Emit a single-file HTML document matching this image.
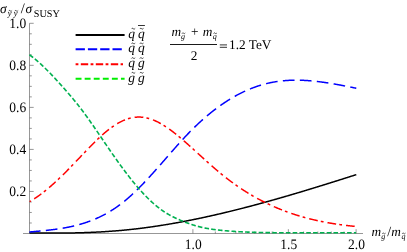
<!DOCTYPE html>
<html><head><meta charset="utf-8"><style>
html,body{margin:0;padding:0;background:#fff;}
svg{display:block;font-family:"Liberation Serif",serif;will-change:transform;-webkit-font-smoothing:antialiased;text-rendering:geometricPrecision;}
text{fill:#000;}
</style></head><body>
<svg width="407" height="252" viewBox="0 0 407 252">
<rect width="407" height="252" fill="#fff"/>
<g stroke="#666" stroke-width="0.68" fill="none">
<line x1="29.5" y1="23.3" x2="29.5" y2="233.5"/>
<line x1="23" y1="233.5" x2="363" y2="233.5"/>
<line x1="29.50" y1="222.99" x2="31.80" y2="222.99"/><line x1="29.50" y1="212.48" x2="31.80" y2="212.48"/><line x1="29.50" y1="201.97" x2="31.80" y2="201.97"/><line x1="29.50" y1="191.46" x2="33.70" y2="191.46"/><line x1="29.50" y1="180.95" x2="31.80" y2="180.95"/><line x1="29.50" y1="170.44" x2="31.80" y2="170.44"/><line x1="29.50" y1="159.93" x2="31.80" y2="159.93"/><line x1="29.50" y1="149.42" x2="33.70" y2="149.42"/><line x1="29.50" y1="138.91" x2="31.80" y2="138.91"/><line x1="29.50" y1="128.40" x2="31.80" y2="128.40"/><line x1="29.50" y1="117.89" x2="31.80" y2="117.89"/><line x1="29.50" y1="107.38" x2="33.70" y2="107.38"/><line x1="29.50" y1="96.87" x2="31.80" y2="96.87"/><line x1="29.50" y1="86.36" x2="31.80" y2="86.36"/><line x1="29.50" y1="75.85" x2="31.80" y2="75.85"/><line x1="29.50" y1="65.34" x2="33.70" y2="65.34"/><line x1="29.50" y1="54.83" x2="31.80" y2="54.83"/><line x1="29.50" y1="44.32" x2="31.80" y2="44.32"/><line x1="29.50" y1="33.81" x2="31.80" y2="33.81"/><line x1="29.50" y1="23.30" x2="33.70" y2="23.30"/><line x1="192.90" y1="233.50" x2="192.90" y2="229.20"/><line x1="215.34" y1="233.50" x2="215.34" y2="231.50"/><line x1="235.83" y1="233.50" x2="235.83" y2="231.50"/><line x1="254.67" y1="233.50" x2="254.67" y2="231.50"/><line x1="272.12" y1="233.50" x2="272.12" y2="231.50"/><line x1="288.37" y1="233.50" x2="288.37" y2="229.20"/><line x1="303.56" y1="233.50" x2="303.56" y2="231.50"/><line x1="317.84" y1="233.50" x2="317.84" y2="231.50"/><line x1="331.29" y1="233.50" x2="331.29" y2="231.50"/><line x1="344.02" y1="233.50" x2="344.02" y2="231.50"/><line x1="356.10" y1="233.50" x2="356.10" y2="229.20"/>
</g>
<g font-size="13.5px"><text transform="translate(26.2,196.21) scale(1,1.07)" text-anchor="end">0.2</text><text transform="translate(26.2,154.17) scale(1,1.07)" text-anchor="end">0.4</text><text transform="translate(26.2,112.13) scale(1,1.07)" text-anchor="end">0.6</text><text transform="translate(26.2,70.09) scale(1,1.07)" text-anchor="end">0.8</text><text transform="translate(26.2,28.05) scale(1,1.07)" text-anchor="end">1.0</text><text transform="translate(193.30,248.8) scale(1,1.07)" text-anchor="middle">1.0</text><text transform="translate(288.77,248.8) scale(1,1.07)" text-anchor="middle">1.5</text><text transform="translate(356.50,248.8) scale(1,1.07)" text-anchor="middle">2.0</text></g>
<g fill="none" stroke-width="1.5">
<path d="M29.50 232.87 L30.00 232.88 L30.50 232.89 L31.00 232.90 L31.50 232.90 L32.00 232.91 L32.50 232.92 L33.00 232.93 L33.50 232.94 L34.00 232.94 L34.50 232.95 L35.00 232.96 L35.50 232.96 L36.00 232.97 L36.50 232.98 L37.00 232.98 L37.50 232.99 L38.00 233.00 L38.50 233.00 L39.00 233.00 L39.50 233.00 L40.00 233.00 L40.50 233.00 L41.00 233.00 L41.50 233.00 L42.00 233.00 L42.50 233.00 L43.00 233.00 L43.50 233.00 L44.00 233.00 L44.50 233.00 L45.00 233.00 L45.50 233.00 L46.00 233.00 L46.50 233.00 L47.00 233.00 L47.50 233.00 L48.00 233.00 L48.50 233.00 L49.00 233.00 L49.50 233.00 L50.00 233.00 L50.50 233.00 L51.00 233.00 L51.50 233.00 L52.00 233.00 L52.50 233.00 L53.00 233.00 L53.50 233.00 L54.00 233.00 L54.50 233.00 L55.00 233.00 L55.50 233.00 L56.00 233.00 L56.50 233.00 L57.00 233.00 L57.50 233.00 L58.00 233.00 L58.50 233.00 L59.00 233.00 L59.50 233.00 L60.00 233.00 L60.50 233.00 L61.00 233.00 L61.50 233.00 L62.00 233.00 L62.50 233.00 L63.00 233.00 L63.50 233.00 L64.00 233.00 L64.50 233.00 L65.00 233.00 L65.50 233.00 L66.00 233.00 L66.50 233.00 L67.00 233.00 L67.50 233.00 L68.00 233.00 L68.50 233.00 L69.00 232.99 L69.50 232.98 L70.00 232.97 L70.50 232.97 L71.00 232.96 L71.50 232.95 L72.00 232.94 L72.50 232.93 L73.00 232.92 L73.50 232.91 L74.00 232.90 L74.50 232.89 L75.00 232.88 L75.50 232.87 L76.00 232.86 L76.50 232.84 L77.00 232.83 L77.50 232.82 L78.00 232.81 L78.50 232.79 L79.00 232.78 L79.50 232.77 L80.00 232.75 L80.50 232.74 L81.00 232.73 L81.50 232.71 L82.00 232.70 L82.50 232.68 L83.00 232.67 L83.50 232.65 L84.00 232.63 L84.50 232.62 L85.00 232.60 L85.50 232.58 L86.00 232.56 L86.50 232.55 L87.00 232.53 L87.50 232.51 L88.00 232.49 L88.50 232.47 L89.00 232.45 L89.50 232.43 L90.00 232.41 L90.50 232.39 L91.00 232.37 L91.50 232.35 L92.00 232.33 L92.50 232.31 L93.00 232.28 L93.50 232.26 L94.00 232.24 L94.50 232.21 L95.00 232.19 L95.50 232.17 L96.00 232.14 L96.50 232.12 L97.00 232.09 L97.50 232.07 L98.00 232.04 L98.50 232.01 L99.00 231.99 L99.50 231.96 L100.00 231.93 L100.50 231.91 L101.00 231.88 L101.50 231.85 L102.00 231.82 L102.50 231.79 L103.00 231.76 L103.50 231.73 L104.00 231.70 L104.50 231.67 L105.00 231.64 L105.50 231.61 L106.00 231.57 L106.50 231.54 L107.00 231.51 L107.50 231.48 L108.00 231.44 L108.50 231.41 L109.00 231.37 L109.50 231.34 L110.00 231.30 L110.50 231.27 L111.00 231.23 L111.50 231.20 L112.00 231.16 L112.50 231.12 L113.00 231.08 L113.50 231.05 L114.00 231.01 L114.50 230.97 L115.00 230.93 L115.50 230.89 L116.00 230.85 L116.50 230.81 L117.00 230.77 L117.50 230.73 L118.00 230.68 L118.50 230.64 L119.00 230.60 L119.50 230.56 L120.00 230.51 L120.50 230.47 L121.00 230.42 L121.50 230.38 L122.00 230.33 L122.50 230.29 L123.00 230.24 L123.50 230.19 L124.00 230.15 L124.50 230.10 L125.00 230.05 L125.50 230.00 L126.00 229.95 L126.50 229.90 L127.00 229.85 L127.50 229.80 L128.00 229.75 L128.50 229.70 L129.00 229.65 L129.50 229.60 L130.00 229.54 L130.50 229.49 L131.00 229.44 L131.50 229.38 L132.00 229.33 L132.50 229.27 L133.00 229.22 L133.50 229.16 L134.00 229.10 L134.50 229.05 L135.00 228.99 L135.50 228.93 L136.00 228.88 L136.50 228.82 L137.00 228.76 L137.50 228.70 L138.00 228.64 L138.50 228.58 L139.00 228.52 L139.50 228.46 L140.00 228.40 L140.50 228.33 L141.00 228.27 L141.50 228.21 L142.00 228.15 L142.50 228.08 L143.00 228.02 L143.50 227.95 L144.00 227.89 L144.50 227.82 L145.00 227.76 L145.50 227.69 L146.00 227.62 L146.50 227.56 L147.00 227.49 L147.50 227.42 L148.00 227.35 L148.50 227.29 L149.00 227.22 L149.50 227.15 L150.00 227.08 L150.50 227.01 L151.00 226.94 L151.50 226.87 L152.00 226.79 L152.50 226.72 L153.00 226.65 L153.50 226.58 L154.00 226.50 L154.50 226.43 L155.00 226.36 L155.50 226.28 L156.00 226.21 L156.50 226.13 L157.00 226.06 L157.50 225.98 L158.00 225.91 L158.50 225.83 L159.00 225.75 L159.50 225.68 L160.00 225.60 L160.50 225.52 L161.00 225.44 L161.50 225.36 L162.00 225.28 L162.50 225.20 L163.00 225.12 L163.50 225.04 L164.00 224.96 L164.50 224.88 L165.00 224.80 L165.50 224.72 L166.00 224.63 L166.50 224.55 L167.00 224.47 L167.50 224.39 L168.00 224.30 L168.50 224.22 L169.00 224.13 L169.50 224.05 L170.00 223.96 L170.50 223.88 L171.00 223.79 L171.50 223.70 L172.00 223.62 L172.50 223.53 L173.00 223.44 L173.50 223.36 L174.00 223.27 L174.50 223.18 L175.00 223.09 L175.50 223.00 L176.00 222.91 L176.50 222.82 L177.00 222.73 L177.50 222.64 L178.00 222.55 L178.50 222.46 L179.00 222.37 L179.50 222.28 L180.00 222.18 L180.50 222.09 L181.00 222.00 L181.50 221.90 L182.00 221.81 L182.50 221.72 L183.00 221.62 L183.50 221.53 L184.00 221.43 L184.50 221.34 L185.00 221.24 L185.50 221.14 L186.00 221.05 L186.50 220.95 L187.00 220.85 L187.50 220.76 L188.00 220.66 L188.50 220.56 L189.00 220.46 L189.50 220.36 L190.00 220.27 L190.50 220.17 L191.00 220.07 L191.50 219.97 L192.00 219.87 L192.50 219.77 L193.00 219.66 L193.50 219.56 L194.00 219.46 L194.50 219.36 L195.00 219.26 L195.50 219.15 L196.00 219.05 L196.50 218.95 L197.00 218.85 L197.50 218.74 L198.00 218.64 L198.50 218.53 L199.00 218.43 L199.50 218.32 L200.00 218.22 L200.50 218.11 L201.00 218.01 L201.50 217.90 L202.00 217.79 L202.50 217.69 L203.00 217.58 L203.50 217.47 L204.00 217.37 L204.50 217.26 L205.00 217.15 L205.50 217.04 L206.00 216.93 L206.50 216.82 L207.00 216.71 L207.50 216.60 L208.00 216.49 L208.50 216.38 L209.00 216.27 L209.50 216.16 L210.00 216.05 L210.50 215.94 L211.00 215.83 L211.50 215.71 L212.00 215.60 L212.50 215.49 L213.00 215.38 L213.50 215.26 L214.00 215.15 L214.50 215.04 L215.00 214.92 L215.50 214.81 L216.00 214.69 L216.50 214.58 L217.00 214.46 L217.50 214.35 L218.00 214.23 L218.50 214.12 L219.00 214.00 L219.50 213.88 L220.00 213.77 L220.50 213.65 L221.00 213.53 L221.50 213.41 L222.00 213.30 L222.50 213.18 L223.00 213.06 L223.50 212.94 L224.00 212.82 L224.50 212.70 L225.00 212.58 L225.50 212.46 L226.00 212.34 L226.50 212.22 L227.00 212.10 L227.50 211.98 L228.00 211.86 L228.50 211.74 L229.00 211.62 L229.50 211.50 L230.00 211.37 L230.50 211.25 L231.00 211.13 L231.50 211.01 L232.00 210.88 L232.50 210.76 L233.00 210.64 L233.50 210.51 L234.00 210.39 L234.50 210.26 L235.00 210.14 L235.50 210.02 L236.00 209.89 L236.50 209.76 L237.00 209.64 L237.50 209.51 L238.00 209.39 L238.50 209.26 L239.00 209.13 L239.50 209.01 L240.00 208.88 L240.50 208.75 L241.00 208.63 L241.50 208.50 L242.00 208.37 L242.50 208.24 L243.00 208.11 L243.50 207.99 L244.00 207.86 L244.50 207.73 L245.00 207.60 L245.50 207.47 L246.00 207.34 L246.50 207.21 L247.00 207.08 L247.50 206.95 L248.00 206.82 L248.50 206.69 L249.00 206.56 L249.50 206.42 L250.00 206.29 L250.50 206.16 L251.00 206.03 L251.50 205.90 L252.00 205.76 L252.50 205.63 L253.00 205.50 L253.50 205.36 L254.00 205.23 L254.50 205.10 L255.00 204.96 L255.50 204.83 L256.00 204.70 L256.50 204.56 L257.00 204.43 L257.50 204.29 L258.00 204.16 L258.50 204.02 L259.00 203.89 L259.50 203.75 L260.00 203.62 L260.50 203.48 L261.00 203.34 L261.50 203.21 L262.00 203.07 L262.50 202.93 L263.00 202.80 L263.50 202.66 L264.00 202.52 L264.50 202.38 L265.00 202.25 L265.50 202.11 L266.00 201.97 L266.50 201.83 L267.00 201.69 L267.50 201.55 L268.00 201.41 L268.50 201.27 L269.00 201.14 L269.50 201.00 L270.00 200.86 L270.50 200.72 L271.00 200.58 L271.50 200.44 L272.00 200.30 L272.50 200.15 L273.00 200.01 L273.50 199.87 L274.00 199.73 L274.50 199.59 L275.00 199.45 L275.50 199.31 L276.00 199.16 L276.50 199.02 L277.00 198.88 L277.50 198.74 L278.00 198.59 L278.50 198.45 L279.00 198.31 L279.50 198.17 L280.00 198.02 L280.50 197.88 L281.00 197.73 L281.50 197.59 L282.00 197.45 L282.50 197.30 L283.00 197.16 L283.50 197.01 L284.00 196.87 L284.50 196.72 L285.00 196.58 L285.50 196.43 L286.00 196.29 L286.50 196.14 L287.00 196.00 L287.50 195.85 L288.00 195.71 L288.50 195.56 L289.00 195.41 L289.50 195.27 L290.00 195.12 L290.50 194.97 L291.00 194.83 L291.50 194.68 L292.00 194.53 L292.50 194.38 L293.00 194.24 L293.50 194.09 L294.00 193.94 L294.50 193.79 L295.00 193.64 L295.50 193.50 L296.00 193.35 L296.50 193.20 L297.00 193.05 L297.50 192.90 L298.00 192.75 L298.50 192.60 L299.00 192.45 L299.50 192.30 L300.00 192.16 L300.50 192.01 L301.00 191.86 L301.50 191.71 L302.00 191.56 L302.50 191.41 L303.00 191.25 L303.50 191.10 L304.00 190.95 L304.50 190.80 L305.00 190.65 L305.50 190.50 L306.00 190.35 L306.50 190.20 L307.00 190.05 L307.50 189.90 L308.00 189.74 L308.50 189.59 L309.00 189.44 L309.50 189.29 L310.00 189.14 L310.50 188.98 L311.00 188.83 L311.50 188.68 L312.00 188.53 L312.50 188.37 L313.00 188.22 L313.50 188.07 L314.00 187.91 L314.50 187.76 L315.00 187.61 L315.50 187.45 L316.00 187.30 L316.50 187.15 L317.00 186.99 L317.50 186.84 L318.00 186.68 L318.50 186.53 L319.00 186.38 L319.50 186.22 L320.00 186.07 L320.50 185.91 L321.00 185.76 L321.50 185.60 L322.00 185.45 L322.50 185.29 L323.00 185.14 L323.50 184.98 L324.00 184.83 L324.50 184.67 L325.00 184.52 L325.50 184.36 L326.00 184.21 L326.50 184.05 L327.00 183.89 L327.50 183.74 L328.00 183.58 L328.50 183.43 L329.00 183.27 L329.50 183.11 L330.00 182.96 L330.50 182.80 L331.00 182.64 L331.50 182.49 L332.00 182.33 L332.50 182.17 L333.00 182.02 L333.50 181.86 L334.00 181.70 L334.50 181.55 L335.00 181.39 L335.50 181.23 L336.00 181.07 L336.50 180.92 L337.00 180.76 L337.50 180.60 L338.00 180.44 L338.50 180.29 L339.00 180.13 L339.50 179.97 L340.00 179.81 L340.50 179.65 L341.00 179.50 L341.50 179.34 L342.00 179.18 L342.50 179.02 L343.00 178.86 L343.50 178.70 L344.00 178.54 L344.50 178.39 L345.00 178.23 L345.50 178.07 L346.00 177.91 L346.50 177.75 L347.00 177.59 L347.50 177.43 L348.00 177.27 L348.50 177.11 L349.00 176.96 L349.50 176.80 L350.00 176.64 L350.50 176.48 L351.00 176.32 L351.50 176.16 L352.00 176.00 L352.50 175.84 L353.00 175.68 L353.50 175.52 L354.00 175.36 L354.50 175.20 L355.00 175.04 L355.50 174.88 L356.00 174.72 L356.30 174.63" stroke="#000"/>
<path d="M29.40 232.00 L29.90 231.95 L30.40 231.91 L30.90 231.86 L31.40 231.82 L31.90 231.77 L32.40 231.73 L32.90 231.68 L33.40 231.64 L33.90 231.59 L34.40 231.55 L34.90 231.50 L35.40 231.46 L35.90 231.41 L36.40 231.37 L36.90 231.32 L37.40 231.27 L37.90 231.23 L38.40 231.18 L38.90 231.14 L39.40 231.09 L39.90 231.04 L40.40 230.99 L40.90 230.95 L41.40 230.90 L41.90 230.85 L42.40 230.80 L42.90 230.75 L43.40 230.70 L43.90 230.65 L44.40 230.60 L44.90 230.55 L45.40 230.50 L45.90 230.44 L46.40 230.39 L46.90 230.34 L47.40 230.28 L47.90 230.23 L48.40 230.17 L48.90 230.11 L49.40 230.06 L49.90 230.00 L50.40 229.94 L50.90 229.88 L51.40 229.82 L51.90 229.76 L52.40 229.70 L52.90 229.63 L53.40 229.57 L53.90 229.51 L54.40 229.44 L54.90 229.37 L55.40 229.31 L55.90 229.24 L56.40 229.17 L56.90 229.10 L57.40 229.03 L57.90 228.95 L58.40 228.88 L58.90 228.81 L59.40 228.73 L59.90 228.65 L60.40 228.58 L60.90 228.50 L61.40 228.41 L61.90 228.33 L62.40 228.25 L62.90 228.17 L63.40 228.08 L63.90 227.99 L64.40 227.90 L64.90 227.81 L65.40 227.72 L65.90 227.63 L66.40 227.54 L66.90 227.44 L67.40 227.34 L67.90 227.25 L68.40 227.15 L68.90 227.04 L69.40 226.94 L69.90 226.84 L70.40 226.73 L70.90 226.62 L71.40 226.51 L71.90 226.40 L72.40 226.29 L72.90 226.17 L73.40 226.06 L73.90 225.94 L74.40 225.82 L74.90 225.70 L75.40 225.57 L75.90 225.45 L76.40 225.32 L76.90 225.19 L77.40 225.06 L77.90 224.93 L78.40 224.79 L78.90 224.66 L79.40 224.52 L79.90 224.38 L80.40 224.23 L80.90 224.09 L81.40 223.94 L81.90 223.79 L82.40 223.64 L82.90 223.49 L83.40 223.33 L83.90 223.18 L84.40 223.02 L84.90 222.85 L85.40 222.69 L85.90 222.52 L86.40 222.35 L86.90 222.18 L87.40 222.01 L87.90 221.83 L88.40 221.66 L88.90 221.48 L89.40 221.29 L89.90 221.11 L90.40 220.92 L90.90 220.73 L91.40 220.54 L91.90 220.34 L92.40 220.14 L92.90 219.94 L93.40 219.74 L93.90 219.53 L94.40 219.33 L94.90 219.12 L95.40 218.90 L95.90 218.69 L96.40 218.47 L96.90 218.25 L97.40 218.02 L97.90 217.79 L98.40 217.56 L98.90 217.33 L99.40 217.10 L99.90 216.86 L100.40 216.62 L100.90 216.37 L101.40 216.12 L101.90 215.87 L102.40 215.62 L102.90 215.37 L103.40 215.11 L103.90 214.84 L104.40 214.58 L104.90 214.31 L105.40 214.04 L105.90 213.77 L106.40 213.49 L106.90 213.21 L107.40 212.92 L107.90 212.64 L108.40 212.35 L108.90 212.05 L109.40 211.76 L109.90 211.46 L110.40 211.15 L110.90 210.85 L111.40 210.54 L111.90 210.22 L112.40 209.91 L112.90 209.59 L113.40 209.26 L113.90 208.94 L114.40 208.61 L114.90 208.27 L115.40 207.94 L115.90 207.59 L116.40 207.25 L116.90 206.90 L117.40 206.55 L117.90 206.20 L118.40 205.84 L118.90 205.47 L119.40 205.11 L119.90 204.74 L120.40 204.36 L120.90 203.99 L121.40 203.61 L121.90 203.22 L122.40 202.83 L122.90 202.44 L123.40 202.04 L123.90 201.64 L124.40 201.24 L124.90 200.83 L125.40 200.42 L125.90 200.00 L126.40 199.58 L126.90 199.16 L127.40 198.73 L127.90 198.30 L128.40 197.87 L128.90 197.43 L129.40 196.99 L129.90 196.55 L130.40 196.10 L130.90 195.65 L131.40 195.19 L131.90 194.74 L132.40 194.28 L132.90 193.81 L133.40 193.34 L133.90 192.87 L134.40 192.40 L134.90 191.92 L135.40 191.45 L135.90 190.96 L136.40 190.48 L136.90 189.99 L137.40 189.50 L137.90 189.01 L138.40 188.51 L138.90 188.01 L139.40 187.51 L139.90 187.01 L140.40 186.50 L140.90 185.99 L141.40 185.48 L141.90 184.97 L142.40 184.45 L142.90 183.94 L143.40 183.41 L143.90 182.89 L144.40 182.37 L144.90 181.84 L145.40 181.31 L145.90 180.78 L146.40 180.25 L146.90 179.71 L147.40 179.18 L147.90 178.64 L148.40 178.10 L148.90 177.56 L149.40 177.01 L149.90 176.47 L150.40 175.92 L150.90 175.37 L151.40 174.82 L151.90 174.27 L152.40 173.72 L152.90 173.16 L153.40 172.61 L153.90 172.05 L154.40 171.49 L154.90 170.93 L155.40 170.37 L155.90 169.81 L156.40 169.25 L156.90 168.68 L157.40 168.12 L157.90 167.55 L158.40 166.99 L158.90 166.42 L159.40 165.85 L159.90 165.28 L160.40 164.71 L160.90 164.14 L161.40 163.57 L161.90 163.00 L162.40 162.43 L162.90 161.86 L163.40 161.28 L163.90 160.71 L164.40 160.14 L164.90 159.56 L165.40 158.99 L165.90 158.41 L166.40 157.84 L166.90 157.27 L167.40 156.69 L167.90 156.12 L168.40 155.55 L168.90 154.97 L169.40 154.40 L169.90 153.83 L170.40 153.25 L170.90 152.68 L171.40 152.11 L171.90 151.54 L172.40 150.97 L172.90 150.40 L173.40 149.83 L173.90 149.26 L174.40 148.69 L174.90 148.12 L175.40 147.56 L175.90 146.99 L176.40 146.43 L176.90 145.86 L177.40 145.30 L177.90 144.74 L178.40 144.18 L178.90 143.62 L179.40 143.07 L179.90 142.51 L180.40 141.96 L180.90 141.41 L181.40 140.86 L181.90 140.31 L182.40 139.76 L182.90 139.22 L183.40 138.68 L183.90 138.13 L184.40 137.60 L184.90 137.06 L185.40 136.53 L185.90 135.99 L186.40 135.47 L186.90 134.94 L187.40 134.41 L187.90 133.89 L188.40 133.37 L188.90 132.86 L189.40 132.34 L189.90 131.83 L190.40 131.32 L190.90 130.82 L191.40 130.31 L191.90 129.81 L192.40 129.31 L192.90 128.82 L193.40 128.32 L193.90 127.83 L194.40 127.34 L194.90 126.86 L195.40 126.38 L195.90 125.90 L196.40 125.42 L196.90 124.94 L197.40 124.47 L197.90 124.00 L198.40 123.53 L198.90 123.07 L199.40 122.60 L199.90 122.14 L200.40 121.69 L200.90 121.23 L201.40 120.78 L201.90 120.33 L202.40 119.88 L202.90 119.44 L203.40 119.00 L203.90 118.56 L204.40 118.12 L204.90 117.69 L205.40 117.26 L205.90 116.83 L206.40 116.40 L206.90 115.98 L207.40 115.55 L207.90 115.14 L208.40 114.72 L208.90 114.31 L209.40 113.90 L209.90 113.49 L210.40 113.08 L210.90 112.68 L211.40 112.28 L211.90 111.88 L212.40 111.48 L212.90 111.09 L213.40 110.70 L213.90 110.31 L214.40 109.92 L214.90 109.54 L215.40 109.16 L215.90 108.78 L216.40 108.41 L216.90 108.03 L217.40 107.66 L217.90 107.30 L218.40 106.93 L218.90 106.57 L219.40 106.21 L219.90 105.85 L220.40 105.50 L220.90 105.14 L221.40 104.79 L221.90 104.45 L222.40 104.10 L222.90 103.76 L223.40 103.42 L223.90 103.08 L224.40 102.75 L224.90 102.42 L225.40 102.09 L225.90 101.76 L226.40 101.43 L226.90 101.11 L227.40 100.79 L227.90 100.48 L228.40 100.16 L228.90 99.85 L229.40 99.54 L229.90 99.23 L230.40 98.93 L230.90 98.63 L231.40 98.33 L231.90 98.03 L232.40 97.74 L232.90 97.45 L233.40 97.16 L233.90 96.87 L234.40 96.59 L234.90 96.30 L235.40 96.02 L235.90 95.75 L236.40 95.47 L236.90 95.20 L237.40 94.93 L237.90 94.67 L238.40 94.40 L238.90 94.14 L239.40 93.88 L239.90 93.63 L240.40 93.37 L240.90 93.12 L241.40 92.87 L241.90 92.63 L242.40 92.38 L242.90 92.14 L243.40 91.90 L243.90 91.67 L244.40 91.43 L244.90 91.20 L245.40 90.97 L245.90 90.75 L246.40 90.52 L246.90 90.30 L247.40 90.08 L247.90 89.87 L248.40 89.65 L248.90 89.44 L249.40 89.23 L249.90 89.03 L250.40 88.82 L250.90 88.62 L251.40 88.42 L251.90 88.23 L252.40 88.03 L252.90 87.84 L253.40 87.65 L253.90 87.46 L254.40 87.28 L254.90 87.10 L255.40 86.92 L255.90 86.74 L256.40 86.57 L256.90 86.40 L257.40 86.23 L257.90 86.06 L258.40 85.90 L258.90 85.74 L259.40 85.58 L259.90 85.42 L260.40 85.27 L260.90 85.12 L261.40 84.97 L261.90 84.82 L262.40 84.68 L262.90 84.54 L263.40 84.40 L263.90 84.26 L264.40 84.13 L264.90 84.00 L265.40 83.87 L265.90 83.74 L266.40 83.62 L266.90 83.49 L267.40 83.38 L267.90 83.26 L268.40 83.14 L268.90 83.03 L269.40 82.92 L269.90 82.82 L270.40 82.71 L270.90 82.61 L271.40 82.51 L271.90 82.41 L272.40 82.31 L272.90 82.22 L273.40 82.13 L273.90 82.04 L274.40 81.96 L274.90 81.87 L275.40 81.79 L275.90 81.71 L276.40 81.63 L276.90 81.56 L277.40 81.48 L277.90 81.41 L278.40 81.34 L278.90 81.28 L279.40 81.21 L279.90 81.15 L280.40 81.09 L280.90 81.03 L281.40 80.98 L281.90 80.92 L282.40 80.87 L282.90 80.82 L283.40 80.77 L283.90 80.73 L284.40 80.68 L284.90 80.64 L285.40 80.60 L285.90 80.56 L286.40 80.52 L286.90 80.49 L287.40 80.46 L287.90 80.43 L288.40 80.40 L288.90 80.37 L289.40 80.35 L289.90 80.32 L290.40 80.30 L290.90 80.28 L291.40 80.27 L291.90 80.25 L292.40 80.24 L292.90 80.22 L293.40 80.21 L293.90 80.21 L294.40 80.20 L294.90 80.19 L295.40 80.19 L295.90 80.19 L296.40 80.19 L296.90 80.19 L297.40 80.19 L297.90 80.20 L298.40 80.20 L298.90 80.21 L299.40 80.22 L299.90 80.23 L300.40 80.24 L300.90 80.26 L301.40 80.27 L301.90 80.29 L302.40 80.31 L302.90 80.33 L303.40 80.35 L303.90 80.37 L304.40 80.40 L304.90 80.42 L305.40 80.45 L305.90 80.48 L306.40 80.51 L306.90 80.54 L307.40 80.58 L307.90 80.61 L308.40 80.65 L308.90 80.68 L309.40 80.72 L309.90 80.76 L310.40 80.80 L310.90 80.84 L311.40 80.89 L311.90 80.93 L312.40 80.98 L312.90 81.03 L313.40 81.07 L313.90 81.12 L314.40 81.17 L314.90 81.23 L315.40 81.28 L315.90 81.33 L316.40 81.39 L316.90 81.45 L317.40 81.50 L317.90 81.56 L318.40 81.62 L318.90 81.68 L319.40 81.74 L319.90 81.81 L320.40 81.87 L320.90 81.94 L321.40 82.00 L321.90 82.07 L322.40 82.14 L322.90 82.20 L323.40 82.27 L323.90 82.35 L324.40 82.42 L324.90 82.49 L325.40 82.56 L325.90 82.64 L326.40 82.71 L326.90 82.79 L327.40 82.86 L327.90 82.94 L328.40 83.02 L328.90 83.10 L329.40 83.18 L329.90 83.26 L330.40 83.34 L330.90 83.42 L331.40 83.51 L331.90 83.59 L332.40 83.67 L332.90 83.76 L333.40 83.85 L333.90 83.93 L334.40 84.02 L334.90 84.11 L335.40 84.19 L335.90 84.28 L336.40 84.37 L336.90 84.46 L337.40 84.55 L337.90 84.64 L338.40 84.74 L338.90 84.83 L339.40 84.92 L339.90 85.01 L340.40 85.11 L340.90 85.20 L341.40 85.30 L341.90 85.39 L342.40 85.49 L342.90 85.58 L343.40 85.68 L343.90 85.77 L344.40 85.87 L344.90 85.97 L345.40 86.07 L345.90 86.16 L346.40 86.26 L346.90 86.36 L347.40 86.46 L347.90 86.56 L348.40 86.66 L348.90 86.76 L349.40 86.86 L349.90 86.96 L350.40 87.06 L350.90 87.16 L351.40 87.26 L351.90 87.36 L352.40 87.46 L352.90 87.56 L353.40 87.67 L353.90 87.77 L354.40 87.87 L354.90 87.97 L355.40 88.07 L355.90 88.17 L356.30 88.26" stroke="#0000ff" stroke-dasharray="11.7 5.3" stroke-dashoffset="0.5"/>
<path d="M29.60 201.59 L30.10 201.31 L30.60 201.02 L31.10 200.73 L31.60 200.43 L32.10 200.13 L32.60 199.83 L33.10 199.52 L33.60 199.20 L34.10 198.89 L34.60 198.56 L35.10 198.24 L35.60 197.91 L36.10 197.57 L36.60 197.24 L37.10 196.89 L37.60 196.55 L38.10 196.20 L38.60 195.84 L39.10 195.49 L39.60 195.13 L40.10 194.76 L40.60 194.39 L41.10 194.02 L41.60 193.64 L42.10 193.26 L42.60 192.88 L43.10 192.50 L43.60 192.11 L44.10 191.71 L44.60 191.32 L45.10 190.92 L45.60 190.51 L46.10 190.11 L46.60 189.70 L47.10 189.28 L47.60 188.87 L48.10 188.45 L48.60 188.03 L49.10 187.60 L49.60 187.17 L50.10 186.74 L50.60 186.31 L51.10 185.87 L51.60 185.43 L52.10 184.99 L52.60 184.55 L53.10 184.10 L53.60 183.65 L54.10 183.20 L54.60 182.74 L55.10 182.28 L55.60 181.82 L56.10 181.36 L56.60 180.90 L57.10 180.43 L57.60 179.96 L58.10 179.49 L58.60 179.01 L59.10 178.54 L59.60 178.06 L60.10 177.58 L60.60 177.10 L61.10 176.61 L61.60 176.13 L62.10 175.64 L62.60 175.15 L63.10 174.66 L63.60 174.16 L64.10 173.67 L64.60 173.17 L65.10 172.67 L65.60 172.17 L66.10 171.67 L66.60 171.16 L67.10 170.66 L67.60 170.15 L68.10 169.64 L68.60 169.13 L69.10 168.62 L69.60 168.11 L70.10 167.59 L70.60 167.08 L71.10 166.56 L71.60 166.05 L72.10 165.53 L72.60 165.01 L73.10 164.49 L73.60 163.97 L74.10 163.44 L74.60 162.92 L75.10 162.40 L75.60 161.88 L76.10 161.35 L76.60 160.83 L77.10 160.30 L77.60 159.78 L78.10 159.25 L78.60 158.73 L79.10 158.20 L79.60 157.67 L80.10 157.15 L80.60 156.62 L81.10 156.10 L81.60 155.57 L82.10 155.05 L82.60 154.52 L83.10 154.00 L83.60 153.47 L84.10 152.95 L84.60 152.43 L85.10 151.90 L85.60 151.38 L86.10 150.86 L86.60 150.34 L87.10 149.82 L87.60 149.30 L88.10 148.79 L88.60 148.27 L89.10 147.76 L89.60 147.24 L90.10 146.73 L90.60 146.22 L91.10 145.71 L91.60 145.20 L92.10 144.70 L92.60 144.20 L93.10 143.69 L93.60 143.20 L94.10 142.70 L94.60 142.20 L95.10 141.71 L95.60 141.22 L96.10 140.73 L96.60 140.25 L97.10 139.77 L97.60 139.29 L98.10 138.81 L98.60 138.34 L99.10 137.87 L99.60 137.40 L100.10 136.94 L100.60 136.48 L101.10 136.02 L101.60 135.57 L102.10 135.12 L102.60 134.68 L103.10 134.24 L103.60 133.80 L104.10 133.36 L104.60 132.93 L105.10 132.51 L105.60 132.09 L106.10 131.67 L106.60 131.26 L107.10 130.85 L107.60 130.45 L108.10 130.05 L108.60 129.66 L109.10 129.27 L109.60 128.89 L110.10 128.51 L110.60 128.13 L111.10 127.77 L111.60 127.40 L112.10 127.05 L112.60 126.69 L113.10 126.35 L113.60 126.01 L114.10 125.67 L114.60 125.34 L115.10 125.02 L115.60 124.70 L116.10 124.38 L116.60 124.08 L117.10 123.77 L117.60 123.48 L118.10 123.19 L118.60 122.90 L119.10 122.63 L119.60 122.35 L120.10 122.09 L120.60 121.83 L121.10 121.58 L121.60 121.33 L122.10 121.09 L122.60 120.86 L123.10 120.63 L123.60 120.41 L124.10 120.19 L124.60 119.99 L125.10 119.79 L125.60 119.59 L126.10 119.41 L126.60 119.23 L127.10 119.05 L127.60 118.89 L128.10 118.73 L128.60 118.58 L129.10 118.43 L129.60 118.29 L130.10 118.16 L130.60 118.04 L131.10 117.92 L131.60 117.82 L132.10 117.72 L132.60 117.62 L133.10 117.54 L133.60 117.46 L134.10 117.39 L134.60 117.32 L135.10 117.26 L135.60 117.21 L136.10 117.17 L136.60 117.13 L137.10 117.11 L137.60 117.09 L138.10 117.07 L138.60 117.06 L139.10 117.06 L139.60 117.07 L140.10 117.09 L140.60 117.11 L141.10 117.14 L141.60 117.17 L142.10 117.22 L142.60 117.27 L143.10 117.32 L143.60 117.39 L144.10 117.46 L144.60 117.54 L145.10 117.62 L145.60 117.71 L146.10 117.81 L146.60 117.92 L147.10 118.03 L147.60 118.15 L148.10 118.28 L148.60 118.42 L149.10 118.56 L149.60 118.70 L150.10 118.86 L150.60 119.02 L151.10 119.19 L151.60 119.36 L152.10 119.54 L152.60 119.73 L153.10 119.92 L153.60 120.12 L154.10 120.33 L154.60 120.54 L155.10 120.76 L155.60 120.98 L156.10 121.21 L156.60 121.45 L157.10 121.69 L157.60 121.94 L158.10 122.19 L158.60 122.45 L159.10 122.71 L159.60 122.98 L160.10 123.25 L160.60 123.53 L161.10 123.81 L161.60 124.10 L162.10 124.40 L162.60 124.70 L163.10 125.00 L163.60 125.31 L164.10 125.62 L164.60 125.94 L165.10 126.26 L165.60 126.58 L166.10 126.91 L166.60 127.25 L167.10 127.59 L167.60 127.93 L168.10 128.28 L168.60 128.63 L169.10 128.98 L169.60 129.34 L170.10 129.70 L170.60 130.07 L171.10 130.44 L171.60 130.81 L172.10 131.19 L172.60 131.57 L173.10 131.95 L173.60 132.33 L174.10 132.72 L174.60 133.12 L175.10 133.51 L175.60 133.91 L176.10 134.31 L176.60 134.71 L177.10 135.12 L177.60 135.53 L178.10 135.94 L178.60 136.35 L179.10 136.77 L179.60 137.18 L180.10 137.60 L180.60 138.03 L181.10 138.45 L181.60 138.88 L182.10 139.30 L182.60 139.73 L183.10 140.17 L183.60 140.60 L184.10 141.03 L184.60 141.47 L185.10 141.91 L185.60 142.35 L186.10 142.79 L186.60 143.23 L187.10 143.67 L187.60 144.11 L188.10 144.56 L188.60 145.00 L189.10 145.45 L189.60 145.90 L190.10 146.35 L190.60 146.80 L191.10 147.24 L191.60 147.69 L192.10 148.15 L192.60 148.60 L193.10 149.05 L193.60 149.50 L194.10 149.95 L194.60 150.41 L195.10 150.86 L195.60 151.31 L196.10 151.77 L196.60 152.22 L197.10 152.67 L197.60 153.13 L198.10 153.58 L198.60 154.04 L199.10 154.49 L199.60 154.95 L200.10 155.40 L200.60 155.85 L201.10 156.31 L201.60 156.76 L202.10 157.22 L202.60 157.67 L203.10 158.12 L203.60 158.57 L204.10 159.03 L204.60 159.48 L205.10 159.93 L205.60 160.38 L206.10 160.83 L206.60 161.28 L207.10 161.73 L207.60 162.17 L208.10 162.62 L208.60 163.07 L209.10 163.51 L209.60 163.96 L210.10 164.40 L210.60 164.84 L211.10 165.28 L211.60 165.72 L212.10 166.16 L212.60 166.60 L213.10 167.04 L213.60 167.47 L214.10 167.91 L214.60 168.34 L215.10 168.77 L215.60 169.20 L216.10 169.63 L216.60 170.05 L217.10 170.48 L217.60 170.90 L218.10 171.33 L218.60 171.75 L219.10 172.16 L219.60 172.58 L220.10 173.00 L220.60 173.41 L221.10 173.82 L221.60 174.23 L222.10 174.64 L222.60 175.04 L223.10 175.45 L223.60 175.85 L224.10 176.25 L224.60 176.64 L225.10 177.04 L225.60 177.43 L226.10 177.82 L226.60 178.21 L227.10 178.60 L227.60 178.98 L228.10 179.37 L228.60 179.75 L229.10 180.13 L229.60 180.50 L230.10 180.88 L230.60 181.25 L231.10 181.62 L231.60 181.99 L232.10 182.36 L232.60 182.72 L233.10 183.09 L233.60 183.45 L234.10 183.81 L234.60 184.16 L235.10 184.52 L235.60 184.87 L236.10 185.22 L236.60 185.57 L237.10 185.92 L237.60 186.27 L238.10 186.61 L238.60 186.95 L239.10 187.29 L239.60 187.63 L240.10 187.97 L240.60 188.30 L241.10 188.63 L241.60 188.97 L242.10 189.29 L242.60 189.62 L243.10 189.95 L243.60 190.27 L244.10 190.59 L244.60 190.91 L245.10 191.23 L245.60 191.54 L246.10 191.86 L246.60 192.17 L247.10 192.48 L247.60 192.79 L248.10 193.10 L248.60 193.40 L249.10 193.71 L249.60 194.01 L250.10 194.31 L250.60 194.60 L251.10 194.90 L251.60 195.19 L252.10 195.49 L252.60 195.78 L253.10 196.07 L253.60 196.35 L254.10 196.64 L254.60 196.92 L255.10 197.21 L255.60 197.49 L256.10 197.77 L256.60 198.04 L257.10 198.32 L257.60 198.59 L258.10 198.86 L258.60 199.13 L259.10 199.40 L259.60 199.67 L260.10 199.93 L260.60 200.20 L261.10 200.46 L261.60 200.72 L262.10 200.98 L262.60 201.23 L263.10 201.49 L263.60 201.74 L264.10 201.99 L264.60 202.24 L265.10 202.49 L265.60 202.74 L266.10 202.98 L266.60 203.23 L267.10 203.47 L267.60 203.71 L268.10 203.95 L268.60 204.19 L269.10 204.42 L269.60 204.66 L270.10 204.89 L270.60 205.12 L271.10 205.35 L271.60 205.58 L272.10 205.80 L272.60 206.03 L273.10 206.25 L273.60 206.47 L274.10 206.69 L274.60 206.91 L275.10 207.13 L275.60 207.34 L276.10 207.56 L276.60 207.77 L277.10 207.98 L277.60 208.19 L278.10 208.40 L278.60 208.61 L279.10 208.81 L279.60 209.01 L280.10 209.22 L280.60 209.42 L281.10 209.62 L281.60 209.81 L282.10 210.01 L282.60 210.21 L283.10 210.40 L283.60 210.59 L284.10 210.78 L284.60 210.97 L285.10 211.16 L285.60 211.35 L286.10 211.53 L286.60 211.71 L287.10 211.90 L287.60 212.08 L288.10 212.26 L288.60 212.44 L289.10 212.61 L289.60 212.79 L290.10 212.96 L290.60 213.14 L291.10 213.31 L291.60 213.48 L292.10 213.65 L292.60 213.81 L293.10 213.98 L293.60 214.14 L294.10 214.31 L294.60 214.47 L295.10 214.63 L295.60 214.79 L296.10 214.95 L296.60 215.11 L297.10 215.26 L297.60 215.42 L298.10 215.57 L298.60 215.73 L299.10 215.88 L299.60 216.03 L300.10 216.17 L300.60 216.32 L301.10 216.47 L301.60 216.61 L302.10 216.76 L302.60 216.90 L303.10 217.04 L303.60 217.18 L304.10 217.32 L304.60 217.46 L305.10 217.60 L305.60 217.73 L306.10 217.87 L306.60 218.00 L307.10 218.13 L307.60 218.26 L308.10 218.39 L308.60 218.52 L309.10 218.65 L309.60 218.77 L310.10 218.90 L310.60 219.02 L311.10 219.15 L311.60 219.27 L312.10 219.39 L312.60 219.51 L313.10 219.63 L313.60 219.75 L314.10 219.86 L314.60 219.98 L315.10 220.09 L315.60 220.21 L316.10 220.32 L316.60 220.43 L317.10 220.54 L317.60 220.65 L318.10 220.76 L318.60 220.87 L319.10 220.98 L319.60 221.08 L320.10 221.19 L320.60 221.29 L321.10 221.39 L321.60 221.49 L322.10 221.59 L322.60 221.69 L323.10 221.79 L323.60 221.89 L324.10 221.99 L324.60 222.08 L325.10 222.18 L325.60 222.27 L326.10 222.36 L326.60 222.46 L327.10 222.55 L327.60 222.64 L328.10 222.73 L328.60 222.82 L329.10 222.90 L329.60 222.99 L330.10 223.08 L330.60 223.16 L331.10 223.25 L331.60 223.33 L332.10 223.41 L332.60 223.49 L333.10 223.58 L333.60 223.66 L334.10 223.73 L334.60 223.81 L335.10 223.89 L335.60 223.97 L336.10 224.04 L336.60 224.12 L337.10 224.19 L337.60 224.27 L338.10 224.34 L338.60 224.41 L339.10 224.48 L339.60 224.55 L340.10 224.62 L340.60 224.69 L341.10 224.76 L341.60 224.83 L342.10 224.90 L342.60 224.96 L343.10 225.03 L343.60 225.09 L344.10 225.16 L344.60 225.22 L345.10 225.28 L345.60 225.34 L346.10 225.40 L346.60 225.47 L347.10 225.53 L347.60 225.58 L348.10 225.64 L348.60 225.70 L349.10 225.76 L349.60 225.81 L350.10 225.87 L350.60 225.93 L351.10 225.98 L351.60 226.04 L352.10 226.09 L352.60 226.14 L353.10 226.19 L353.60 226.25 L354.10 226.30 L354.60 226.35 L355.10 226.40 L355.60 226.45 L356.10 226.50 L356.20 226.51" stroke="#ff0000" stroke-dasharray="2.8 4.0 8.75 3.15" stroke-dashoffset="1.4"/>
<path d="M29.40 54.81 L29.90 55.16 L30.40 55.51 L30.90 55.88 L31.40 56.24 L31.90 56.62 L32.40 57.00 L32.90 57.38 L33.40 57.77 L33.90 58.16 L34.40 58.56 L34.90 58.97 L35.40 59.38 L35.90 59.79 L36.40 60.21 L36.90 60.63 L37.40 61.06 L37.90 61.49 L38.40 61.93 L38.90 62.37 L39.40 62.82 L39.90 63.27 L40.40 63.72 L40.90 64.18 L41.40 64.64 L41.90 65.11 L42.40 65.57 L42.90 66.05 L43.40 66.52 L43.90 67.00 L44.40 67.49 L44.90 67.98 L45.40 68.47 L45.90 68.96 L46.40 69.46 L46.90 69.96 L47.40 70.46 L47.90 70.97 L48.40 71.48 L48.90 71.99 L49.40 72.50 L49.90 73.02 L50.40 73.54 L50.90 74.06 L51.40 74.58 L51.90 75.11 L52.40 75.64 L52.90 76.17 L53.40 76.70 L53.90 77.24 L54.40 77.78 L54.90 78.31 L55.40 78.86 L55.90 79.40 L56.40 79.94 L56.90 80.49 L57.40 81.03 L57.90 81.58 L58.40 82.13 L58.90 82.68 L59.40 83.24 L59.90 83.79 L60.40 84.34 L60.90 84.90 L61.40 85.45 L61.90 86.01 L62.40 86.57 L62.90 87.13 L63.40 87.69 L63.90 88.26 L64.40 88.82 L64.90 89.39 L65.40 89.96 L65.90 90.53 L66.40 91.10 L66.90 91.67 L67.40 92.25 L67.90 92.82 L68.40 93.40 L68.90 93.98 L69.40 94.57 L69.90 95.15 L70.40 95.74 L70.90 96.33 L71.40 96.92 L71.90 97.51 L72.40 98.11 L72.90 98.71 L73.40 99.31 L73.90 99.92 L74.40 100.52 L74.90 101.13 L75.40 101.75 L75.90 102.36 L76.40 102.98 L76.90 103.60 L77.40 104.23 L77.90 104.86 L78.40 105.49 L78.90 106.13 L79.40 106.77 L79.90 107.41 L80.40 108.06 L80.90 108.71 L81.40 109.36 L81.90 110.02 L82.40 110.68 L82.90 111.35 L83.40 112.02 L83.90 112.69 L84.40 113.37 L84.90 114.05 L85.40 114.74 L85.90 115.42 L86.40 116.11 L86.90 116.81 L87.40 117.50 L87.90 118.20 L88.40 118.90 L88.90 119.61 L89.40 120.32 L89.90 121.03 L90.40 121.74 L90.90 122.45 L91.40 123.17 L91.90 123.89 L92.40 124.61 L92.90 125.33 L93.40 126.05 L93.90 126.78 L94.40 127.50 L94.90 128.23 L95.40 128.96 L95.90 129.69 L96.40 130.42 L96.90 131.16 L97.40 131.89 L97.90 132.63 L98.40 133.36 L98.90 134.10 L99.40 134.83 L99.90 135.57 L100.40 136.31 L100.90 137.05 L101.40 137.79 L101.90 138.52 L102.40 139.26 L102.90 140.00 L103.40 140.74 L103.90 141.47 L104.40 142.21 L104.90 142.95 L105.40 143.68 L105.90 144.42 L106.40 145.15 L106.90 145.89 L107.40 146.62 L107.90 147.35 L108.40 148.08 L108.90 148.81 L109.40 149.54 L109.90 150.26 L110.40 150.99 L110.90 151.71 L111.40 152.44 L111.90 153.16 L112.40 153.88 L112.90 154.60 L113.40 155.31 L113.90 156.03 L114.40 156.74 L114.90 157.45 L115.40 158.16 L115.90 158.87 L116.40 159.58 L116.90 160.28 L117.40 160.99 L117.90 161.69 L118.40 162.39 L118.90 163.08 L119.40 163.78 L119.90 164.47 L120.40 165.16 L120.90 165.85 L121.40 166.53 L121.90 167.21 L122.40 167.89 L122.90 168.57 L123.40 169.25 L123.90 169.92 L124.40 170.59 L124.90 171.26 L125.40 171.92 L125.90 172.58 L126.40 173.24 L126.90 173.90 L127.40 174.55 L127.90 175.20 L128.40 175.85 L128.90 176.49 L129.40 177.13 L129.90 177.77 L130.40 178.41 L130.90 179.04 L131.40 179.67 L131.90 180.29 L132.40 180.91 L132.90 181.53 L133.40 182.14 L133.90 182.75 L134.40 183.36 L134.90 183.96 L135.40 184.56 L135.90 185.16 L136.40 185.75 L136.90 186.34 L137.40 186.92 L137.90 187.51 L138.40 188.08 L138.90 188.66 L139.40 189.22 L139.90 189.79 L140.40 190.35 L140.90 190.91 L141.40 191.46 L141.90 192.01 L142.40 192.56 L142.90 193.10 L143.40 193.63 L143.90 194.17 L144.40 194.69 L144.90 195.22 L145.40 195.74 L145.90 196.25 L146.40 196.76 L146.90 197.27 L147.40 197.77 L147.90 198.27 L148.40 198.76 L148.90 199.25 L149.40 199.73 L149.90 200.21 L150.40 200.68 L150.90 201.15 L151.40 201.62 L151.90 202.08 L152.40 202.53 L152.90 202.98 L153.40 203.43 L153.90 203.87 L154.40 204.30 L154.90 204.73 L155.40 205.16 L155.90 205.58 L156.40 205.99 L156.90 206.40 L157.40 206.80 L157.90 207.20 L158.40 207.60 L158.90 207.99 L159.40 208.37 L159.90 208.75 L160.40 209.12 L160.90 209.49 L161.40 209.85 L161.90 210.20 L162.40 210.55 L162.90 210.90 L163.40 211.24 L163.90 211.57 L164.40 211.90 L164.90 212.22 L165.40 212.54 L165.90 212.85 L166.40 213.16 L166.90 213.47 L167.40 213.77 L167.90 214.06 L168.40 214.35 L168.90 214.64 L169.40 214.92 L169.90 215.20 L170.40 215.47 L170.90 215.74 L171.40 216.00 L171.90 216.27 L172.40 216.52 L172.90 216.78 L173.40 217.03 L173.90 217.28 L174.40 217.52 L174.90 217.76 L175.40 218.00 L175.90 218.23 L176.40 218.47 L176.90 218.69 L177.40 218.92 L177.90 219.14 L178.40 219.36 L178.90 219.58 L179.40 219.80 L179.90 220.01 L180.40 220.23 L180.90 220.43 L181.40 220.64 L181.90 220.85 L182.40 221.05 L182.90 221.25 L183.40 221.46 L183.90 221.65 L184.40 221.85 L184.90 222.05 L185.40 222.24 L185.90 222.43 L186.40 222.63 L186.90 222.81 L187.40 223.00 L187.90 223.19 L188.40 223.37 L188.90 223.55 L189.40 223.73 L189.90 223.90 L190.40 224.08 L190.90 224.25 L191.40 224.42 L191.90 224.58 L192.40 224.75 L192.90 224.91 L193.40 225.07 L193.90 225.22 L194.40 225.38 L194.90 225.53 L195.40 225.68 L195.90 225.82 L196.40 225.97 L196.90 226.10 L197.40 226.24 L197.90 226.38 L198.40 226.51 L198.90 226.64 L199.40 226.76 L199.90 226.89 L200.40 227.01 L200.90 227.13 L201.40 227.25 L201.90 227.36 L202.40 227.47 L202.90 227.58 L203.40 227.69 L203.90 227.80 L204.40 227.90 L204.90 228.00 L205.40 228.10 L205.90 228.20 L206.40 228.29 L206.90 228.38 L207.40 228.48 L207.90 228.56 L208.40 228.65 L208.90 228.74 L209.40 228.82 L209.90 228.90 L210.40 228.98 L210.90 229.06 L211.40 229.14 L211.90 229.21 L212.40 229.28 L212.90 229.35 L213.40 229.42 L213.90 229.49 L214.40 229.56 L214.90 229.62 L215.40 229.69 L215.90 229.75 L216.40 229.81 L216.90 229.87 L217.40 229.93 L217.90 229.99 L218.40 230.05 L218.90 230.10 L219.40 230.15 L219.90 230.21 L220.40 230.26 L220.90 230.31 L221.40 230.36 L221.90 230.41 L222.40 230.46 L222.90 230.50 L223.40 230.55 L223.90 230.60 L224.40 230.64 L224.90 230.68 L225.40 230.73 L225.90 230.77 L226.40 230.81 L226.90 230.85 L227.40 230.89 L227.90 230.93 L228.40 230.97 L228.90 231.01 L229.40 231.05 L229.90 231.09 L230.40 231.13 L230.90 231.16 L231.40 231.20 L231.90 231.24 L232.40 231.27 L232.90 231.31 L233.40 231.34 L233.90 231.37 L234.40 231.41 L234.90 231.44 L235.40 231.47 L235.90 231.50 L236.40 231.53 L236.90 231.56 L237.40 231.59 L237.90 231.62 L238.40 231.65 L238.90 231.68 L239.40 231.71 L239.90 231.74 L240.40 231.76 L240.90 231.79 L241.40 231.82 L241.90 231.84 L242.40 231.87 L242.90 231.89 L243.40 231.92 L243.90 231.94 L244.40 231.96 L244.90 231.99 L245.40 232.01 L245.90 232.03 L246.40 232.05 L246.90 232.07 L247.40 232.09 L247.90 232.11 L248.40 232.13 L248.90 232.15 L249.40 232.17 L249.90 232.19 L250.40 232.21 L250.90 232.23 L251.40 232.25 L251.90 232.26 L252.40 232.28 L252.90 232.30 L253.40 232.31 L253.90 232.33 L254.40 232.34 L254.90 232.36 L255.40 232.37 L255.90 232.38 L256.40 232.40 L256.90 232.41 L257.40 232.42 L257.90 232.44 L258.40 232.45 L258.90 232.46 L259.40 232.47 L259.90 232.48 L260.40 232.50 L260.90 232.51 L261.40 232.52 L261.90 232.53 L262.40 232.54 L262.90 232.54 L263.40 232.55 L263.90 232.56 L264.40 232.57 L264.90 232.58 L265.40 232.59 L265.90 232.59 L266.40 232.60 L266.90 232.61 L267.40 232.61 L267.90 232.62 L268.40 232.63 L268.90 232.63 L269.40 232.64 L269.90 232.64 L270.40 232.65 L270.90 232.65 L271.40 232.66 L271.90 232.66 L272.40 232.67 L272.90 232.67 L273.40 232.67 L273.90 232.68 L274.40 232.68 L274.90 232.68 L275.40 232.69 L275.90 232.69 L276.40 232.69 L276.90 232.69 L277.40 232.69 L277.90 232.70 L278.40 232.70 L278.90 232.70 L279.40 232.70 L279.90 232.70 L280.40 232.70 L280.90 232.70 L281.40 232.70 L281.90 232.70 L282.40 232.70 L282.90 232.70 L283.40 232.70 L283.90 232.70 L284.40 232.70 L284.90 232.70 L285.40 232.70 L285.90 232.70 L286.40 232.70 L286.90 232.70 L287.40 232.70 L287.90 232.70 L288.40 232.70 L288.90 232.70 L289.40 232.70 L289.90 232.70 L290.40 232.70 L290.90 232.70 L291.40 232.70 L291.90 232.70 L292.40 232.70 L292.90 232.70 L293.40 232.70 L293.90 232.70 L294.40 232.70 L294.90 232.70 L295.40 232.70 L295.90 232.70 L296.40 232.70 L296.90 232.70 L297.40 232.70 L297.90 232.70 L298.40 232.70 L298.90 232.70 L299.40 232.70 L299.90 232.70 L300.40 232.70 L300.90 232.70 L301.40 232.70 L301.90 232.70 L302.40 232.70 L302.90 232.70 L303.40 232.70 L303.90 232.70 L304.40 232.70 L304.90 232.70 L305.40 232.70 L305.90 232.70 L306.40 232.70 L306.90 232.70 L307.40 232.70 L307.90 232.70 L308.40 232.70 L308.90 232.70 L309.40 232.70 L309.90 232.70 L310.40 232.70 L310.90 232.70 L311.40 232.70 L311.90 232.70 L312.40 232.70 L312.90 232.70 L313.40 232.70 L313.90 232.70 L314.40 232.70 L314.90 232.70 L315.40 232.70 L315.90 232.70 L316.40 232.70 L316.90 232.70 L317.40 232.70 L317.90 232.70 L318.40 232.70 L318.90 232.70 L319.40 232.70 L319.90 232.70 L320.40 232.70 L320.90 232.70 L321.40 232.70 L321.90 232.70 L322.40 232.70 L322.90 232.70 L323.40 232.70 L323.90 232.70 L324.40 232.70 L324.90 232.70 L325.40 232.70 L325.90 232.70 L326.40 232.70 L326.90 232.70 L327.40 232.70 L327.90 232.70 L328.40 232.70 L328.90 232.70 L329.40 232.70 L329.90 232.70 L330.40 232.70 L330.90 232.70 L331.40 232.70 L331.90 232.70 L332.40 232.70 L332.90 232.70 L333.40 232.70 L333.90 232.70 L334.40 232.70 L334.90 232.70 L335.40 232.70 L335.90 232.70 L336.40 232.70 L336.90 232.70 L337.40 232.70 L337.90 232.70 L338.40 232.70 L338.90 232.70 L339.40 232.70 L339.90 232.70 L340.40 232.70 L340.90 232.70 L341.40 232.70 L341.90 232.70 L342.40 232.70 L342.90 232.70 L343.40 232.70 L343.90 232.70 L344.40 232.70 L344.90 232.70 L345.40 232.70 L345.90 232.70 L346.40 232.70 L346.90 232.70 L347.40 232.70 L347.90 232.70 L348.40 232.70 L348.90 232.70 L349.40 232.70 L349.90 232.70 L350.40 232.70 L350.90 232.70 L351.40 232.70 L351.90 232.70 L352.40 232.70 L352.90 232.72 L353.40 232.73 L353.90 232.74 L354.40 232.76 L354.90 232.77 L355.40 232.78 L355.90 232.80 L356.10 232.80" stroke="#00b050" stroke-width="1.6" stroke-dasharray="4.6 2.2"/>
</g>
<!-- legend -->
<g fill="none" stroke-width="2">
<line x1="75.6" y1="34.9" x2="124.6" y2="34.9" stroke="#000"/>
<line x1="75.6" y1="49.2" x2="122" y2="49.2" stroke="#0000ff" stroke-dasharray="9.3 3.0"/>
<line x1="75.6" y1="64.3" x2="123" y2="64.3" stroke="#ff0000" stroke-dasharray="2.8 2.4 7.4 2.4"/>
<line x1="75.6" y1="78.8" x2="124.6" y2="78.8" stroke="#00ee00" stroke-dasharray="5.9 3.17"/>
</g>
<g font-size="13.5px" font-style="italic">
<text x="128.3" y="37.5">q</text><text x="138" y="37.5">q</text>
<text x="128.3" y="52.2">q</text><text x="138" y="52.2">q</text>
<text x="128.3" y="66.9">q</text><text x="138" y="66.9">g</text>
<text x="128.3" y="81.6">g</text><text x="138" y="81.6">g</text>
</g>
<path d="M131.70 28.70 c0.38 -0.55 1.06 -0.55 1.60 0 s1.06 0.55 1.60 -0.00" fill="none" stroke="#000" stroke-width="0.75" stroke-linecap="round"/><path d="M140.00 28.70 c0.38 -0.55 1.06 -0.55 1.60 0 s1.06 0.55 1.60 -0.00" fill="none" stroke="#000" stroke-width="0.75" stroke-linecap="round"/><path d="M131.70 43.40 c0.38 -0.55 1.06 -0.55 1.60 0 s1.06 0.55 1.60 -0.00" fill="none" stroke="#000" stroke-width="0.75" stroke-linecap="round"/><path d="M140.00 43.40 c0.38 -0.55 1.06 -0.55 1.60 0 s1.06 0.55 1.60 -0.00" fill="none" stroke="#000" stroke-width="0.75" stroke-linecap="round"/><path d="M131.70 58.10 c0.38 -0.55 1.06 -0.55 1.60 0 s1.06 0.55 1.60 -0.00" fill="none" stroke="#000" stroke-width="0.75" stroke-linecap="round"/><path d="M140.00 58.10 c0.38 -0.55 1.06 -0.55 1.60 0 s1.06 0.55 1.60 -0.00" fill="none" stroke="#000" stroke-width="0.75" stroke-linecap="round"/><path d="M131.70 72.80 c0.38 -0.55 1.06 -0.55 1.60 0 s1.06 0.55 1.60 -0.00" fill="none" stroke="#000" stroke-width="0.75" stroke-linecap="round"/><path d="M140.00 72.80 c0.38 -0.55 1.06 -0.55 1.60 0 s1.06 0.55 1.60 -0.00" fill="none" stroke="#000" stroke-width="0.75" stroke-linecap="round"/><line x1="138" y1="25.5" x2="144.9" y2="25.5" stroke="#000" stroke-width="0.8"/>
<!-- title -->
<g font-style="italic">
<text x="0" y="12.9" font-size="13.4px">σ</text>
<text x="7.7" y="15.5" font-size="8.5px">y</text>
<text x="13.8" y="15.5" font-size="8.5px">y</text>
<text x="20.7" y="13.3" font-size="14.5px" font-style="normal">/</text>
<text x="25.4" y="12.9" font-size="13.4px">σ</text>
</g>
<path d="M8.80 10.85 c0.36 -0.55 0.99 -0.55 1.50 0 s0.99 0.55 1.50 -0.00" fill="none" stroke="#000" stroke-width="0.70" stroke-linecap="round"/><path d="M14.90 10.85 c0.36 -0.55 0.99 -0.55 1.50 0 s0.99 0.55 1.50 -0.00" fill="none" stroke="#000" stroke-width="0.70" stroke-linecap="round"/>
<text x="33.8" y="16.8" font-size="10.2px">SUSY</text>
<!-- formula -->
<g font-size="13.3px" font-style="italic">
<text x="171.4" y="35.7">m</text>
<text x="181.1" y="38.6" font-size="8px">g</text>
<text x="191.0" y="35.7" font-style="normal">+</text>
<text x="202.8" y="35.7">m</text>
<text x="212.7" y="38.6" font-size="8px">q</text>
</g>
<path d="M182.20 33.25 c0.34 -0.55 0.92 -0.55 1.40 0 s0.92 0.55 1.40 -0.00" fill="none" stroke="#000" stroke-width="0.70" stroke-linecap="round"/><path d="M213.80 33.25 c0.34 -0.55 0.92 -0.55 1.40 0 s0.92 0.55 1.40 -0.00" fill="none" stroke="#000" stroke-width="0.70" stroke-linecap="round"/>
<line x1="170" y1="44.5" x2="217" y2="44.5" stroke="#000" stroke-width="0.9"/>
<text x="194.2" y="59.5" font-size="13.3px" text-anchor="middle">2</text>
<path d="M219.8 44.9H227M219.8 47.3H227" stroke="#000" stroke-width="0.8" fill="none"/>
<text x="229.0" y="48.7" font-size="13.3px">1.2 TeV</text>
<!-- x label -->
<g font-size="13.3px" font-style="italic">
<text x="371.4" y="236.0">m</text>
<text x="381.3" y="238.9" font-size="8px">g</text>
<text x="387.2" y="236.0" font-size="14px" font-style="normal">/</text>
<text x="391.3" y="236.0">m</text>
<text x="401.4" y="238.9" font-size="8px">q</text>
</g>
<path d="M382.50 233.45 c0.34 -0.55 0.92 -0.55 1.40 0 s0.92 0.55 1.40 -0.00" fill="none" stroke="#000" stroke-width="0.70" stroke-linecap="round"/><path d="M402.40 233.45 c0.34 -0.55 0.92 -0.55 1.40 0 s0.92 0.55 1.40 -0.00" fill="none" stroke="#000" stroke-width="0.70" stroke-linecap="round"/>
</svg>
</body></html>
